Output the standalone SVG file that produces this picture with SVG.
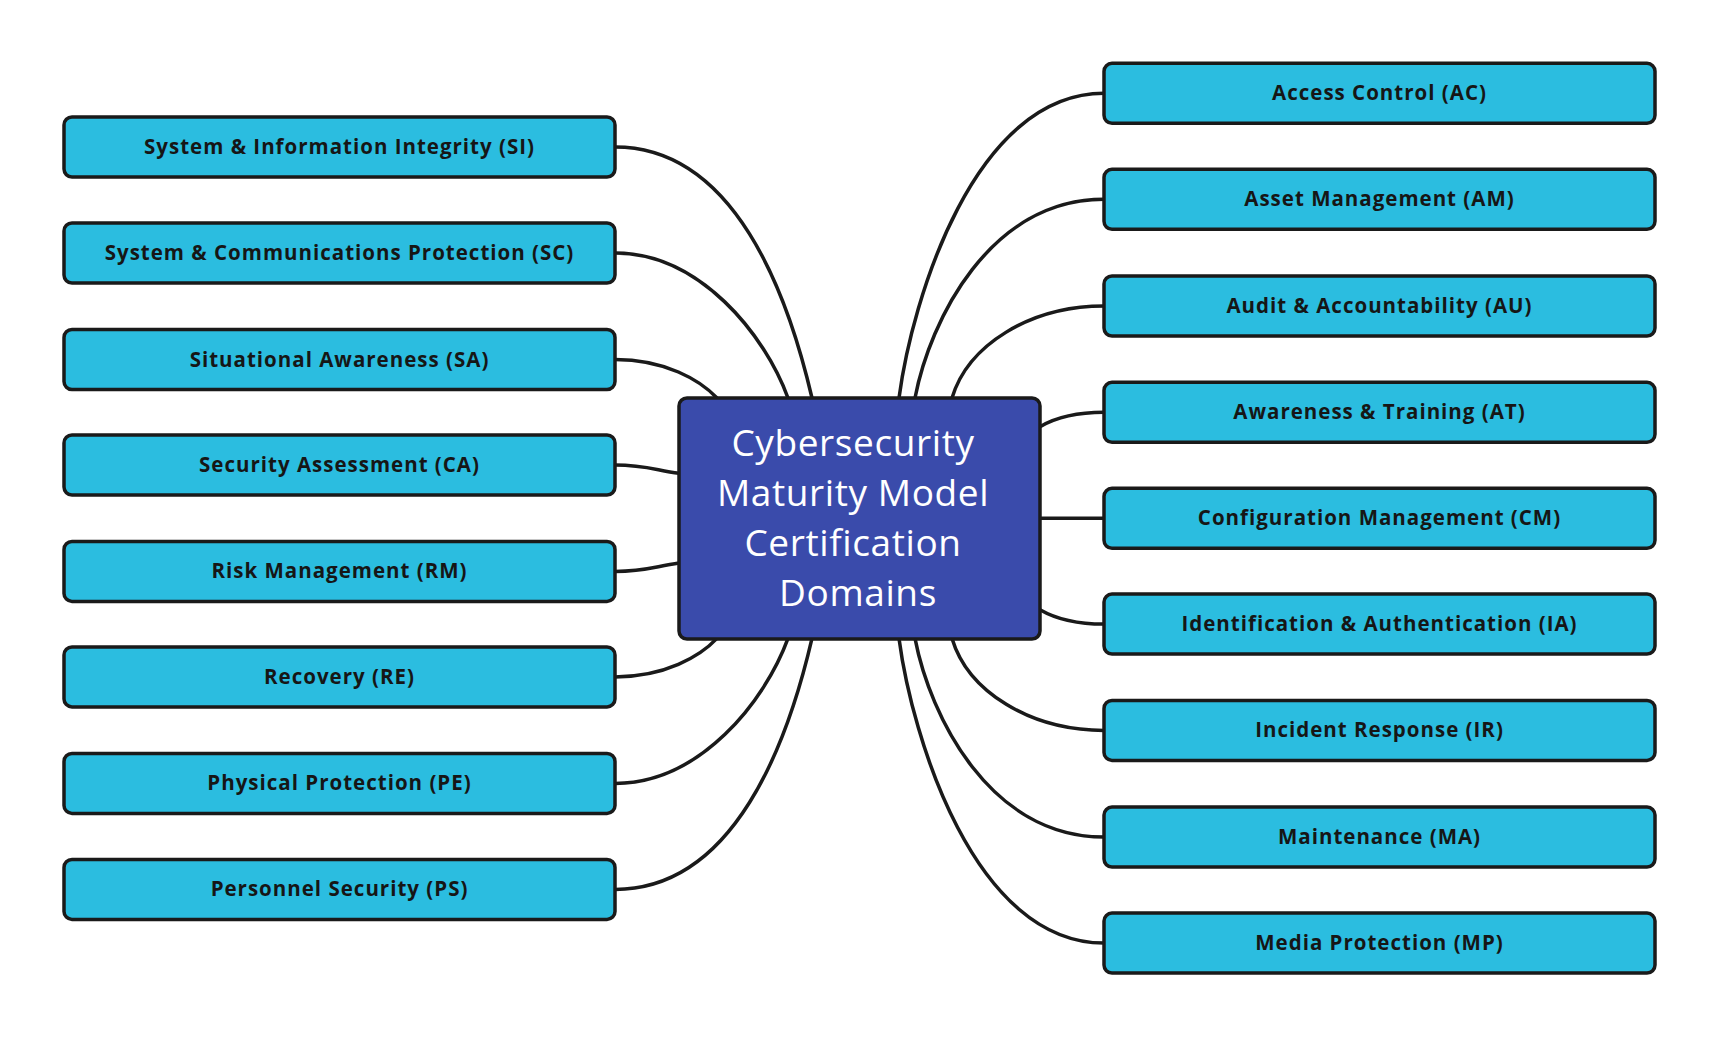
<svg xmlns="http://www.w3.org/2000/svg" width="1717" height="1037" viewBox="0 0 1717 1037">
<style>
.node rect{fill:#2bbde0;stroke:#1a1a1a;stroke-width:3.5}
.node text{font-family:"Open Sans","Liberation Sans",sans-serif;font-weight:700;font-size:20.5px;letter-spacing:1px;fill:#161616;text-anchor:middle}
#connectors path{fill:none;stroke:#1a1a1a;stroke-width:3.5}
#center rect{fill:#3a4bab;stroke:#1a1a1a;stroke-width:3.5}
#center text{font-family:"Open Sans","Liberation Sans",sans-serif;font-weight:500;font-size:37px;letter-spacing:0.6px;fill:#ffffff;text-anchor:middle}
</style>
<rect width="1717" height="1037" fill="#ffffff"/>
<g id="connectors">
<path d="M615,147 C735,147 788,295 812,398"/>
<path d="M615,253 C700,253 765,335 788,398"/>
<path d="M615,359.5 C665,359.5 700,380 717,398"/>
<path d="M615,465 C645,465 655,470 679,473.3"/>
<path d="M615,571.4 C645,571.4 655,566.4 679,563.1"/>
<path d="M615,676.9 C665,676.9 700,656.4 717,638.4"/>
<path d="M615,783.4 C700,783.4 765,701.4 788,638.4"/>
<path d="M615,889.4 C735,889.4 788,741.4 812,638.4"/>
<path d="M1104,93.3 C974,93.3 912,300 899,398"/>
<path d="M1104,199.3 C990,199.3 930,320 915,398"/>
<path d="M1104,306 C1030,306 968,345 952,398"/>
<path d="M1104,412.3 C1075,412.3 1055,418 1040,426.7"/>
<path d="M1040,518.3 L1104,518.3"/>
<path d="M1104,624.1 C1075,624.1 1055,618.4 1040,609.7"/>
<path d="M1104,730.4 C1030,730.4 968,691.4 952,638.4"/>
<path d="M1104,837.1 C990,837.1 930,716.4 915,638.4"/>
<path d="M1104,943.1 C974,943.1 912,736.4 899,638.4"/>
</g>
<g id="center">
<rect x="679" y="398" width="361" height="241" rx="8"/>
<text x="853" y="456">Cybersecurity</text>
<text x="853" y="506">Maturity Model</text>
<text x="853" y="556">Certification</text>
<text x="858" y="606">Domains</text>
</g>
<g id="node-si" class="node"><rect x="64" y="117" width="551" height="60" rx="8"/><text x="339.5" y="154">System &amp; Information Integrity (SI)</text></g>
<g id="node-sc" class="node"><rect x="64" y="223" width="551" height="60" rx="8"/><text x="339.5" y="260">System &amp; Communications Protection (SC)</text></g>
<g id="node-sa" class="node"><rect x="64" y="329.5" width="551" height="60" rx="8"/><text x="339.5" y="366.5">Situational Awareness (SA)</text></g>
<g id="node-ca" class="node"><rect x="64" y="435" width="551" height="60" rx="8"/><text x="339.5" y="472">Security Assessment (CA)</text></g>
<g id="node-rm" class="node"><rect x="64" y="541.4" width="551" height="60" rx="8"/><text x="339.5" y="578.4">Risk Management (RM)</text></g>
<g id="node-re" class="node"><rect x="64" y="646.9" width="551" height="60" rx="8"/><text x="339.5" y="683.9">Recovery (RE)</text></g>
<g id="node-pe" class="node"><rect x="64" y="753.4" width="551" height="60" rx="8"/><text x="339.5" y="790.4">Physical Protection (PE)</text></g>
<g id="node-ps" class="node"><rect x="64" y="859.4" width="551" height="60" rx="8"/><text x="339.5" y="896.4">Personnel Security (PS)</text></g>
<g id="node-ac" class="node"><rect x="1104" y="63.3" width="551" height="60" rx="8"/><text x="1379.5" y="100.3">Access Control (AC)</text></g>
<g id="node-am" class="node"><rect x="1104" y="169.3" width="551" height="60" rx="8"/><text x="1379.5" y="206.3">Asset Management (AM)</text></g>
<g id="node-au" class="node"><rect x="1104" y="276" width="551" height="60" rx="8"/><text x="1379.5" y="313">Audit &amp; Accountability (AU)</text></g>
<g id="node-at" class="node"><rect x="1104" y="382.3" width="551" height="60" rx="8"/><text x="1379.5" y="419.3">Awareness &amp; Training (AT)</text></g>
<g id="node-cm" class="node"><rect x="1104" y="488.3" width="551" height="60" rx="8"/><text x="1379.5" y="525.3">Configuration Management (CM)</text></g>
<g id="node-ia" class="node"><rect x="1104" y="594.1" width="551" height="60" rx="8"/><text x="1379.5" y="631.1">Identification &amp; Authentication (IA)</text></g>
<g id="node-ir" class="node"><rect x="1104" y="700.4" width="551" height="60" rx="8"/><text x="1379.5" y="737.4">Incident Response (IR)</text></g>
<g id="node-ma" class="node"><rect x="1104" y="807.1" width="551" height="60" rx="8"/><text x="1379.5" y="844.1">Maintenance (MA)</text></g>
<g id="node-mp" class="node"><rect x="1104" y="913.1" width="551" height="60" rx="8"/><text x="1379.5" y="950.1">Media Protection (MP)</text></g>
</svg>
